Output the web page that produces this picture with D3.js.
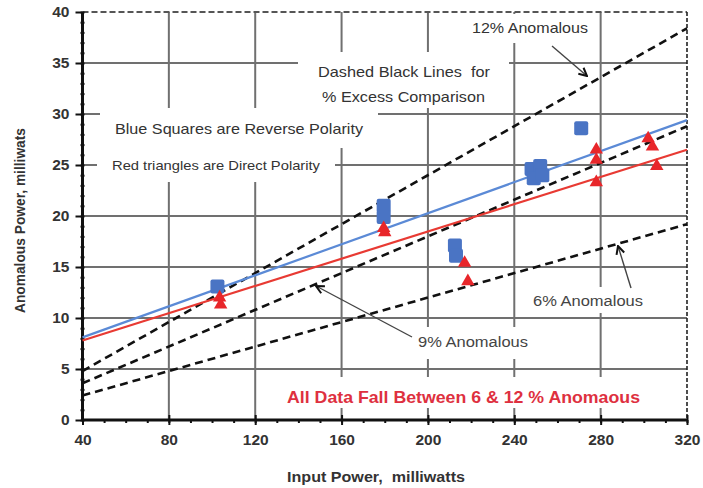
<!DOCTYPE html>
<html>
<head>
<meta charset="utf-8">
<script src="https://cdn.jsdelivr.net/npm/d3@7"></script>
<style>
  body { margin: 0; background: #fff; }
  svg { display: block; font-family: "Liberation Sans", Arial, sans-serif; }
</style>
</head>
<body>
<div id="chart"></div>
<script>
const width = 703;
const height = 488;
const margin = {left: 82.5, right: 16, top: 12, bottom: 68};

// data
const blueX = [102.5, 179.5, 179.5, 212.5, 213, 248, 252, 249, 253, 271];
const blueY = [13.1, 21.0, 19.9, 17.1, 16.1, 24.6, 24.9, 23.7, 24.0, 28.6];
const redX = [103.5, 104, 179.5, 180, 217, 218.5, 278, 278, 278, 302, 304, 306];
const redY = [12.0, 11.3, 18.8, 18.4, 15.4, 13.6, 26.5, 25.5, 23.3, 27.6, 26.8, 24.9];

// fitted lines (end points)
const blueFit = [[40, 8.1], [320, 29.4]];
const redFit = [[40, 7.8], [320, 26.5]];

// % excess comparison lines (end points)
const pct6 = [[40, 2.4], [320, 19.2]];
const pct9 = [[40, 3.6], [320, 28.8]];
const pct12 = [[40, 4.8], [320, 38.4]];

const xTicks = [40, 80, 120, 160, 200, 240, 280, 320];
const yTicks = [0, 5, 10, 15, 20, 25, 30, 35, 40];

let svg = d3.select("#chart").append("svg")
    .attr("width", width)
    .attr("height", height);

let x = d3.scaleLinear()
    .domain([40, 320])
    .range([margin.left, width - margin.right]);

let y = d3.scaleLinear()
    .domain([0, 40])
    .range([height - margin.bottom, margin.top]);

// arrow marker
svg.append("defs").append("marker")
    .attr("id", "arrow")
    .attr("viewBox", "0 0 10 10")
    .attr("refX", 9)
    .attr("refY", 5)
    .attr("markerWidth", 10)
    .attr("markerHeight", 10)
    .attr("markerUnits", "userSpaceOnUse")
    .attr("orient", "auto")
    .append("path")
    .attr("d", "M1,1 L9,5 L1,9")
    .attr("fill", "none")
    .attr("stroke", "#111")
    .attr("stroke-width", 2);

// grid
let grid = svg.append("g").attr("stroke", "#707070").attr("stroke-width", 2);
grid.selectAll(".vg")
    .data(xTicks.slice(1, -1))
    .enter().append("line")
    .attr("x1", d => x(d)).attr("x2", d => x(d))
    .attr("y1", y(40)).attr("y2", y(0));
grid.selectAll(".hg")
    .data(yTicks.slice(1, -1))
    .enter().append("line")
    .attr("x1", x(40)).attr("x2", x(320))
    .attr("y1", d => y(d)).attr("y2", d => y(d));

// top and right frame
svg.append("line")
    .attr("x1", x(40)).attr("x2", x(320))
    .attr("y1", y(40)).attr("y2", y(40))
    .attr("stroke", "#555").attr("stroke-width", 2)
    .attr("stroke-dasharray", "6,3");
svg.append("line")
    .attr("x1", x(320)).attr("x2", x(320))
    .attr("y1", y(40)).attr("y2", y(0))
    .attr("stroke", "#222").attr("stroke-width", 1.6)
    .attr("stroke-dasharray", "4,2");

// white boxes behind the notes (they cut the grid)
const boxes = [
    [465, 14, 130, 29],
    [298, 52, 211, 56],
    [100, 108, 278, 40],
    [97, 148, 238, 34],
    [525, 287, 125, 26],
    [410, 327, 122, 32],
    [278, 377, 372, 31]
];
svg.selectAll(".box")
    .data(boxes)
    .enter().append("rect")
    .attr("x", d => d[0]).attr("y", d => d[1])
    .attr("width", d => d[2]).attr("height", d => d[3])
    .attr("fill", "#fff");

// axes
let xAxis = svg.append("g")
    .attr("transform", `translate(0,${y(0)})`)
    .call(d3.axisBottom(x).tickValues(xTicks).tickSize(0).tickPadding(14));
let xMinor = svg.append("g")
    .attr("transform", `translate(0,${y(0)})`)
    .call(d3.axisBottom(x).tickValues(d3.range(40, 321, 10)).tickSize(3).tickFormat(""));
let xMajor = svg.append("g")
    .attr("transform", `translate(0,${y(0) - 5})`)
    .call(d3.axisBottom(x).tickValues(xTicks).tickSize(10).tickFormat(""));

let yAxis = svg.append("g")
    .attr("transform", `translate(${x(40)},0)`)
    .call(d3.axisLeft(y).tickValues(yTicks).tickSize(7).tickPadding(6));
let yMinor = svg.append("g")
    .attr("transform", `translate(${x(40) + 2},0)`)
    .call(d3.axisLeft(y).tickValues(d3.range(0, 41, 1)).tickSize(4).tickFormat(""));

[xAxis, xMinor, xMajor, yAxis, yMinor].forEach(a => {
    a.select(".domain").remove();
    a.selectAll("line").attr("stroke", "#111").attr("stroke-width", 2);
});
[xAxis, yAxis].forEach(a => {
    a.selectAll("text")
        .attr("fill", "#333")
        .style("font-size", "15.5px")
        .style("font-weight", "bold")
        .style("font-family", "'Liberation Sans', Arial, sans-serif");
});

svg.append("line")
    .attr("x1", x(40)).attr("x2", x(320))
    .attr("y1", y(0)).attr("y2", y(0))
    .attr("stroke", "#111").attr("stroke-width", 3);
svg.append("line")
    .attr("x1", x(40)).attr("x2", x(40))
    .attr("y1", y(40)).attr("y2", y(0))
    .attr("stroke", "#111").attr("stroke-width", 3);

// axis titles
svg.append("text")
    .attr("x", 287).attr("y", 482)
    .attr("textLength", 178).attr("lengthAdjust", "spacingAndGlyphs")
    .attr("fill", "#333")
    .style("font-size", "14px").style("font-weight", "bold")
    .text("Input Power,\u00a0 milliwatts");
svg.append("text")
    .attr("transform", `translate(25,313) rotate(-90)`)
    .attr("textLength", 185).attr("lengthAdjust", "spacingAndGlyphs")
    .attr("fill", "#333")
    .style("font-size", "14px").style("font-weight", "bold")
    .text("Anomalous Power, milliwats");

// comparison lines
let line = d3.line().x(d => x(d[0])).y(d => y(d[1]));
svg.selectAll(".pct")
    .data([pct6, pct9, pct12])
    .enter().append("path")
    .attr("d", line)
    .attr("fill", "none")
    .attr("stroke", "#111")
    .attr("stroke-width", 2.6)
    .attr("stroke-dasharray", "8,5");

// fitted lines
svg.append("path").attr("d", line(blueFit))
    .attr("fill", "none").attr("stroke", "#5b8ad6").attr("stroke-width", 2.2);
svg.append("path").attr("d", line(redFit))
    .attr("fill", "none").attr("stroke", "#e83a33").attr("stroke-width", 2.2);

// points
svg.selectAll(".sq")
    .data(blueX.map((d, i) => [d, blueY[i]]))
    .enter().append("rect")
    .attr("x", d => x(d[0]) - 7)
    .attr("y", d => y(d[1]) - 7)
    .attr("width", 14).attr("height", 14)
    .attr("rx", 2)
    .attr("fill", "#4a74c4");

let tri = d3.symbol().type(d3.symbolTriangle).size(78);
svg.selectAll(".tri")
    .data(redX.map((d, i) => [d, redY[i]]))
    .enter().append("path")
    .attr("d", tri)
    .attr("transform", d => `translate(${x(d[0])},${y(d[1])})`)
    .attr("fill", "#e8262a");

// notes
const notes = [
    ["12% Anomalous", 472, 33, 116, 14.5, "#333", "normal"],
    ["Dashed Black Lines\u00a0 for", 318, 77, 172, 14.5, "#333", "normal"],
    ["% Excess Comparison", 322, 102, 163, 14.5, "#333", "normal"],
    ["Blue Squares are Reverse Polarity", 115, 134, 248, 14.5, "#333", "normal"],
    ["Red triangles are Direct Polarity", 112, 170, 208, 13, "#333", "normal"],
    ["9% Anomalous", 418, 347, 110, 14, "#444", "normal"],
    ["6% Anomalous", 533, 306, 110, 14, "#444", "normal"],
    ["All Data Fall Between 6 & 12 % Anomaous", 287, 403, 353, 16.5, "#de3040", "bold"]
];
svg.selectAll(".note")
    .data(notes)
    .enter().append("text")
    .attr("x", d => d[1]).attr("y", d => d[2])
    .attr("textLength", d => d[3]).attr("lengthAdjust", "spacingAndGlyphs")
    .attr("fill", d => d[5])
    .style("font-size", d => d[4] + "px")
    .style("font-weight", d => d[6])
    .text(d => d[0]);

// arrows
const arrows = [
    [552, 46, 587, 76],
    [412, 337, 316, 286],
    [631, 288, 618, 246]
];
svg.selectAll(".arr")
    .data(arrows)
    .enter().append("line")
    .attr("x1", d => d[0]).attr("y1", d => d[1])
    .attr("x2", d => d[2]).attr("y2", d => d[3])
    .attr("stroke", "#444").attr("stroke-width", 1.4)
    .attr("marker-end", "url(#arrow)");
</script>
</body>
</html>
